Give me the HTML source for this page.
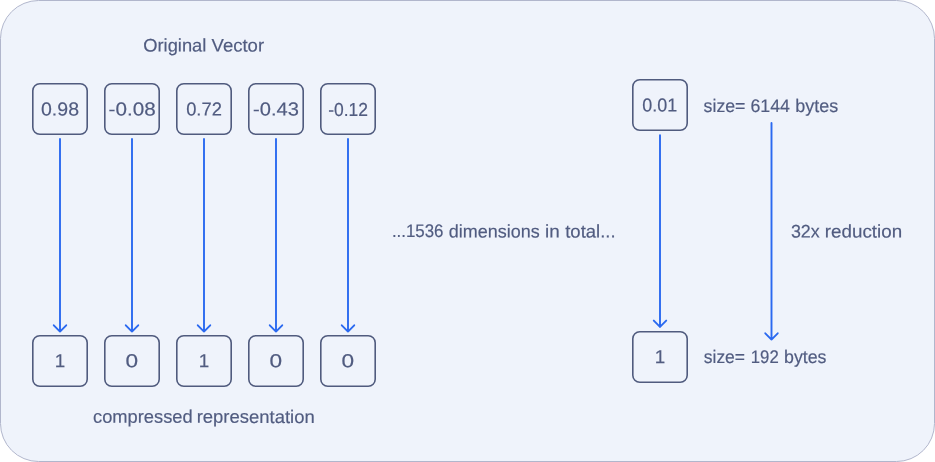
<!DOCTYPE html>
<html><head><meta charset="utf-8">
<style>
html,body{margin:0;padding:0;background:#fff;}
body{width:935px;height:462px;overflow:hidden;position:relative;}
svg{position:absolute;left:0;top:0;display:block;transform:translateZ(0);will-change:transform;}
text{font-family:"Liberation Sans",sans-serif;font-size:18.9px;fill:#515c80;stroke:#515c80;stroke-width:0.18px;text-rendering:geometricPrecision;white-space:pre;}
.lb{font-size:18.2px;}
.bx{fill:none;stroke:#505b7e;stroke-width:1.6;}
.ar{fill:none;stroke:#2a69f0;stroke-width:1.9;stroke-linecap:round;stroke-linejoin:round;}
</style></head><body>
<svg width="935" height="462" viewBox="0 0 935 462">
<rect x="0.5" y="0.5" width="934" height="461" rx="38" ry="38" fill="#eff3fb" stroke="#b1b6cc" stroke-width="1"/>
<text class="lb" transform="rotate(0.03 143.22 51.5)"><tspan x="143.22" y="51.5" textLength="63.12" lengthAdjust="spacingAndGlyphs">Original</tspan> <tspan x="211.55" y="51.5" textLength="52.51" lengthAdjust="spacingAndGlyphs">Vector</tspan></text>
<g class="bx">
<rect x="32.8" y="83.7" width="54.4" height="50.55" rx="7"/>
<rect x="104.8" y="83.7" width="54.4" height="50.55" rx="7"/>
<rect x="176.8" y="83.7" width="54.4" height="50.55" rx="7"/>
<rect x="248.8" y="83.7" width="54.4" height="50.55" rx="7"/>
<rect x="320.8" y="83.7" width="54.4" height="50.55" rx="7"/>
<rect x="32.8" y="335.7" width="54.4" height="50.55" rx="7"/>
<rect x="104.8" y="335.7" width="54.4" height="50.55" rx="7"/>
<rect x="176.8" y="335.7" width="54.4" height="50.55" rx="7"/>
<rect x="248.8" y="335.7" width="54.4" height="50.55" rx="7"/>
<rect x="320.8" y="335.7" width="54.4" height="50.55" rx="7"/>
<rect x="632.8" y="79.7" width="54.4" height="50.55" rx="7"/>
<rect x="632.8" y="331.7" width="54.4" height="50.55" rx="7"/>
</g>
<text transform="rotate(0.03 41.02 115.5)"><tspan x="41.02" y="115.5" textLength="37.99" lengthAdjust="spacingAndGlyphs">0.98</tspan></text>
<text transform="rotate(0.03 108.64 115.5)"><tspan x="108.64" y="115.5" textLength="47.11" lengthAdjust="spacingAndGlyphs">-0.08</tspan></text>
<text transform="rotate(0.03 186.16 115.5)"><tspan x="186.16" y="115.5" textLength="35.71" lengthAdjust="spacingAndGlyphs">0.72</tspan></text>
<text transform="rotate(0.03 253.13 115.5)"><tspan x="253.13" y="115.5" textLength="45.83" lengthAdjust="spacingAndGlyphs">-0.43</tspan></text>
<text transform="rotate(0.03 328.23 115.5)"><tspan x="328.23" y="115.5" textLength="39.84" lengthAdjust="spacingAndGlyphs">-0.12</tspan></text>
<text text-anchor="middle" x="60" y="367.2" transform="rotate(0.03 60 367.2)">1</text>
<text text-anchor="middle" x="131.9" y="367.2" textLength="12.6" lengthAdjust="spacingAndGlyphs" transform="rotate(0.03 131.9 367.2)">0</text>
<text text-anchor="middle" x="204" y="367.2" transform="rotate(0.03 204 367.2)">1</text>
<text text-anchor="middle" x="275.9" y="367.2" textLength="12.6" lengthAdjust="spacingAndGlyphs" transform="rotate(0.03 275.9 367.2)">0</text>
<text text-anchor="middle" x="347.9" y="367.2" textLength="12.6" lengthAdjust="spacingAndGlyphs" transform="rotate(0.03 347.9 367.2)">0</text>
<text transform="rotate(0.03 642.33 111.5)"><tspan x="642.33" y="111.5" textLength="34.96" lengthAdjust="spacingAndGlyphs">0.01</tspan></text>
<text text-anchor="middle" x="660" y="363.2" transform="rotate(0.03 660 363.2)">1</text>
<g class="ar">
<path d="M60 139V331.6M53.8 325.3L60 331.6L66.2 325.3"/>
<path d="M132 139V331.6M125.8 325.3L132 331.6L138.2 325.3"/>
<path d="M204 139V331.6M197.8 325.3L204 331.6L210.2 325.3"/>
<path d="M276 139V331.6M269.8 325.3L276 331.6L282.2 325.3"/>
<path d="M348 139V331.6M341.8 325.3L348 331.6L354.2 325.3"/>
<path d="M660 135.3V326.9M653.8 320.6L660 326.9L666.2 320.6"/>
<path d="M771.5 123V339.6M765.3 333.3L771.5 339.6L777.7 333.3"/>
</g>
<text class="lb" transform="rotate(0.03 391.89 237.4)"><tspan x="391.89" y="237.4" textLength="51.61" lengthAdjust="spacingAndGlyphs">...1536</tspan> <tspan x="448.85" y="237.4" textLength="90.84" lengthAdjust="spacingAndGlyphs">dimensions</tspan> <tspan x="545.07" y="237.4" textLength="14.68" lengthAdjust="spacingAndGlyphs">in</tspan> <tspan x="565.20" y="237.4" textLength="50.47" lengthAdjust="spacingAndGlyphs">total...</tspan></text>
<text class="lb" transform="rotate(0.03 703.6 111.9)"><tspan x="703.60" y="111.9" textLength="41.83" lengthAdjust="spacingAndGlyphs">size=</tspan> <tspan x="750.46" y="111.9" textLength="39.51" lengthAdjust="spacingAndGlyphs">6144</tspan> <tspan x="795.22" y="111.9" textLength="42.92" lengthAdjust="spacingAndGlyphs">bytes</tspan></text>
<text class="lb" transform="rotate(0.03 790.88 237.4)"><tspan x="790.88" y="237.4" textLength="28.83" lengthAdjust="spacingAndGlyphs">32x</tspan> <tspan x="824.84" y="237.4" textLength="77.31" lengthAdjust="spacingAndGlyphs">reduction</tspan></text>
<text class="lb" transform="rotate(0.03 703.78 362.9)"><tspan x="703.78" y="362.9" textLength="41.25" lengthAdjust="spacingAndGlyphs">size=</tspan> <tspan x="750.77" y="362.9" textLength="27.94" lengthAdjust="spacingAndGlyphs">192</tspan> <tspan x="784.04" y="362.9" textLength="42.46" lengthAdjust="spacingAndGlyphs">bytes</tspan></text>
<text class="lb" transform="rotate(0.03 93.02 422.8)"><tspan x="93.02" y="422.8" textLength="99.69" lengthAdjust="spacingAndGlyphs">compressed</tspan> <tspan x="196.71" y="422.8" textLength="117.95" lengthAdjust="spacingAndGlyphs">representation</tspan></text>
</svg>
</body></html>
